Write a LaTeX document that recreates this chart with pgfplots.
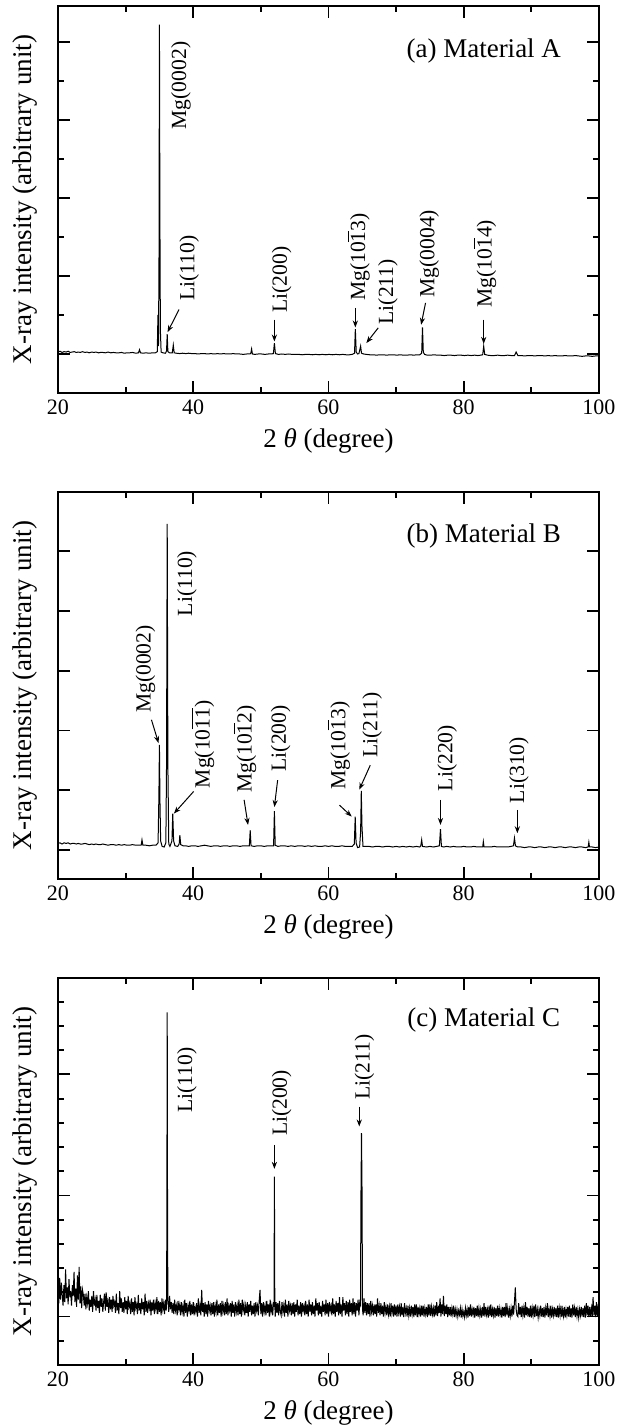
\documentclass[border=0pt]{standalone}
\usepackage{fontspec}
\setmainfont{Liberation Serif}
\usepackage{pgfplots}
\pgfplotsset{compat=1.18}
\usetikzlibrary{arrows.meta}
\newcommand{\ob}[1]{$\overline{\mbox{#1}}$}
\newcommand{\lblf}{\fontsize{10.8}{12}\selectfont}
\pgfplotsset{
  xrd/.style={
    scale only axis, width=270.5pt, height=193.5pt,
    xmin=20, xmax=100,
    xtick={20,40,60,80,100}, minor xtick={30,50,70,90},
    tick align=inside,
    major tick length=6pt, minor tick length=3pt,
    tick style={line width=0.9pt, black},
    axis line style={line width=1.1pt},
    yticklabels={},
    /pgf/number format/assume math mode=true,
    tick label style={font=\fontsize{11}{13}\selectfont},
    label style={font=\fontsize{13.5}{16}\selectfont},
    xlabel={2 \textit{θ} (degree)},
    ylabel={X-ray intensity (arbitrary unit)},
    xlabel style={at={(axis description cs:0.5,-0.124)}, anchor=center},
    ylabel style={at={(axis description cs:-0.061,0.5)}, anchor=center},
    anchor=south west,
  },
}
\tikzset{
  lab/.style={rotate=90, anchor=west, inner sep=0pt, font=\lblf},
  ttl/.style={font=\fontsize{13.5}{16}\selectfont, inner sep=0pt},
  arr/.style={-{Stealth[length=3.5pt,width=2.6pt]}, line width=0.5pt},
}
\begin{document}
\begin{tikzpicture}
% ---------------- (a)
\begin{axis}[xrd, at={(0,0)}, ymin=0, ymax=9.92,
  ytick={1,3,5,7,9}, minor ytick={2,4,6,8}]
\addplot[black, line width=0.5pt, mark=none] coordinates {
(20.0,1.05)(20.3,1.07)(20.6,1.04)(20.9,1.06)(21.2,1.05)(21.5,1.07)(21.8,1.04)(22.1,1.05)
(22.4,1.06)(22.7,1.04)(23.0,1.05)(23.3,1.04)(23.6,1.06)(24.0,1.04)(24.3,1.05)(24.6,1.03)
(25.0,1.05)(25.3,1.04)(25.6,1.05)(26.0,1.03)(26.3,1.04)(26.6,1.04)(27.0,1.03)(27.4,1.05)
(27.8,1.03)(28.2,1.04)(28.6,1.03)(29.0,1.03)(29.4,1.04)(29.8,1.02)(30.2,1.03)(30.6,1.03)
(31.0,1.04)(31.5,1.02)(31.9,1.03)(32.05,1.11)(32.2,1.03)(32.6,1.02)(33.0,1.03)(33.5,1.02)
(34.0,1.03)(34.4,1.03)(34.68,1.06)(34.78,2.0)(34.86,1.2)(34.94,3.6)(35.0,9.44)(35.07,4.5)
(35.14,1.6)(35.25,1.05)(35.5,1.03)(35.9,1.02)(36.05,1.08)(36.15,1.51)(36.25,1.06)(36.5,1.03)
(36.9,1.03)(37.05,1.23)(37.18,1.03)(37.5,1.02)(38.0,1.01)(38.4,1.02)(38.9,1.01)(39.3,1.02)
(39.8,1.01)(40.3,1.01)(40.7,1.00)(41.2,1.01)(41.7,1.01)(42.1,1.00)(42.6,1.01)(43.1,1.00)
(43.6,1.01)(44.0,1.00)(44.5,1.01)(45.0,1.00)(45.4,1.00)(45.9,1.01)(46.4,1.00)(46.9,1.00)
(47.4,0.99)(47.9,1.00)(48.3,1.00)(48.5,1.01)(48.63,1.13)(48.75,1.00)(49.1,0.99)(49.6,1.00)
(50.1,1.00)(50.6,0.99)(51.1,1.00)(51.5,1.00)(51.85,1.01)(52.0,1.28)(52.15,1.01)(52.6,0.99)
(53.1,1.00)(53.6,0.99)(54.1,1.00)(54.6,0.99)(55.1,0.99)(55.6,0.99)(56.1,0.98)(56.6,0.99)
(57.1,0.99)(57.6,0.98)(58.1,0.99)(58.6,0.98)(59.1,0.99)(59.6,0.98)(60.1,0.99)(60.6,0.98)
(61.1,0.99)(61.6,0.98)(62.1,0.99)(62.6,0.98)(63.1,0.98)(63.5,0.99)(63.85,1.02)(63.97,1.64)
(64.1,1.05)(64.3,1.00)(64.5,1.01)(64.75,1.2)(64.88,1.02)(65.2,1.00)(65.6,0.99)(66.1,0.98)
(66.6,0.98)(67.1,0.97)(67.6,0.98)(68.1,0.98)(68.6,0.97)(69.1,0.98)(69.6,0.98)(70.1,0.97)
(70.6,0.98)(71.1,0.97)(71.6,0.97)(72.1,0.98)(72.6,0.97)(73.1,0.98)(73.5,0.98)(73.78,1.02)
(73.9,1.68)(74.02,1.05)(74.2,0.99)(74.6,0.97)(75.1,0.97)(75.6,0.98)(76.1,0.97)(76.6,0.97)
(77.1,0.96)(77.6,0.97)(78.1,0.97)(78.6,0.96)(79.1,0.97)(79.6,0.97)(80.1,0.96)(80.6,0.97)
(81.1,0.96)(81.6,0.97)(82.1,0.96)(82.5,0.97)(82.8,0.98)(82.95,1.2)(83.1,0.99)(83.5,0.97)
(84.0,0.96)(84.5,0.96)(85.0,0.97)(85.5,0.96)(86.0,0.96)(86.5,0.97)(87.0,0.96)(87.5,0.96)
(87.75,1.05)(88.0,0.96)(88.5,0.96)(89.0,0.95)(89.5,0.96)(90.0,0.96)(90.5,0.95)(91.0,0.96)
(91.5,0.96)(92.0,0.95)(92.5,0.96)(93.0,0.95)(93.5,0.96)(94.0,0.95)(94.5,0.95)(95.0,0.96)
(95.5,0.95)(96.0,0.95)(96.5,0.96)(97.0,0.95)(97.5,0.94)(98.0,0.95)(98.5,0.95)(99.0,0.94)
(99.5,0.95)(100.0,0.95)
};
\node[ttl] at (axis cs:82.96,8.76) {(a) Material A};
\node[lab] at (axis cs:38.2,6.75) {Mg(0002)};
\node[lab] at (axis cs:39.4,2.35) {Li(110)};
\node[lab] at (axis cs:53.06,2.05) {Li(200)};
\node[lab] at (axis cs:64.4,2.35) {Mg(10\ob{1}3)};
\node[lab] at (axis cs:68.8,1.75) {Li(211)};
\node[lab] at (axis cs:74.9,2.44) {Mg(0004)};
\node[lab] at (axis cs:83.1,2.18) {Mg(10\ob{1}4)};
\draw[arr] (axis cs:37.9,2.14) -- (axis cs:36.2,1.56);
\draw[arr] (axis cs:52.0,1.88) -- (axis cs:52.0,1.32);
\draw[arr] (axis cs:63.97,2.18) -- (axis cs:63.97,1.68);
\draw[arr] (axis cs:67.35,1.67) -- (axis cs:65.6,1.28);
\draw[arr] (axis cs:74.35,2.31) -- (axis cs:73.7,1.75);
\draw[arr] (axis cs:82.95,1.88) -- (axis cs:82.95,1.26);
\end{axis}
% ---------------- (b)
\begin{axis}[xrd, at={(0,-243pt)}, ymin=-0.486, ymax=5.994,
  ytick={0,1,2,3,4,5}]
\addplot[black, line width=0.5pt, mark=none] coordinates {
(20.0,0.11)(20.3,0.12)(20.6,0.10)(20.9,0.12)(21.2,0.11)(21.5,0.12)(21.8,0.10)(22.1,0.11)
(22.4,0.11)(22.7,0.10)(23.0,0.11)(23.3,0.10)(23.6,0.10)(24.0,0.11)(24.3,0.10)(24.6,0.09)
(25.0,0.10)(25.3,0.09)(25.6,0.10)(26.0,0.09)(26.3,0.09)(26.6,0.10)(27.0,0.09)(27.4,0.08)
(27.8,0.09)(28.2,0.09)(28.6,0.08)(29.0,0.09)(29.4,0.08)(29.8,0.09)(30.2,0.08)(30.6,0.08)
(31.0,0.09)(31.5,0.08)(32.0,0.08)(32.3,0.08)(32.42,0.17)(32.55,0.08)(33.0,0.08)(33.5,0.07)
(34.0,0.08)(34.5,0.08)(34.8,0.12)(34.92,0.9)(35.0,1.76)(35.08,0.8)(35.18,0.15)(35.4,0.06)
(35.7,0.05)(35.95,0.12)(36.05,1.42)(36.15,5.46)(36.25,1.42)(36.38,0.1)(36.55,0.06)(36.85,0.15)
(36.97,0.61)(37.1,0.15)(37.3,0.07)(37.7,0.06)(37.92,0.1)(38.02,0.25)(38.15,0.09)(38.5,0.07)
(38.9,0.07)(39.3,0.06)(39.8,0.07)(40.3,0.07)(40.7,0.06)(41.2,0.07)(41.7,0.08)(42.1,0.07)
(42.6,0.06)(43.1,0.07)(43.6,0.07)(44.0,0.06)(44.5,0.07)(45.0,0.07)(45.4,0.06)(45.9,0.07)
(46.4,0.07)(46.9,0.06)(47.4,0.07)(47.9,0.07)(48.3,0.07)(48.42,0.33)(48.55,0.07)(49.0,0.06)
(49.5,0.07)(50.0,0.07)(50.5,0.06)(51.0,0.07)(51.5,0.07)(51.88,0.07)(52.0,0.65)(52.12,0.08)
(52.5,0.06)(53.0,0.07)(53.5,0.07)(54.0,0.06)(54.5,0.07)(55.0,0.06)(55.5,0.07)(56.0,0.07)
(56.5,0.06)(57.0,0.07)(57.5,0.06)(58.0,0.07)(58.5,0.06)(59.0,0.06)(59.5,0.07)(60.0,0.06)
(60.5,0.07)(61.0,0.06)(61.5,0.06)(62.0,0.07)(62.5,0.06)(63.0,0.06)(63.5,0.06)(63.82,0.1)
(63.95,0.56)(64.08,0.12)(64.3,0.04)(64.6,0.05)(64.75,0.3)(64.85,0.99)(64.95,0.4)(65.1,0.06)
(65.5,0.06)(66.0,0.06)(66.5,0.05)(67.0,0.06)(67.5,0.06)(68.0,0.05)(68.5,0.06)(69.0,0.06)
(69.5,0.05)(70.0,0.06)(70.5,0.05)(71.0,0.06)(71.5,0.05)(72.0,0.06)(72.5,0.05)(73.0,0.06)
(73.5,0.05)(73.65,0.07)(73.78,0.17)(73.9,0.06)(74.5,0.05)(75.0,0.06)(75.5,0.05)(76.0,0.06)
(76.4,0.07)(76.56,0.35)(76.7,0.06)(77.0,0.05)(77.5,0.06)(78.0,0.05)(78.5,0.06)(79.0,0.05)
(79.5,0.05)(80.0,0.06)(80.5,0.05)(81.0,0.05)(81.5,0.06)(82.0,0.05)(82.5,0.05)(82.8,0.05)
(82.9,0.14)(83.0,0.05)(83.5,0.05)(84.0,0.05)(84.5,0.06)(85.0,0.05)(85.5,0.05)(86.0,0.05)
(86.5,0.05)(87.0,0.06)(87.35,0.07)(87.5,0.2)(87.65,0.07)(88.0,0.05)(88.5,0.05)(89.0,0.04)
(89.5,0.05)(90.0,0.05)(90.5,0.04)(91.0,0.05)(91.5,0.05)(92.0,0.04)(92.5,0.05)(93.0,0.05)
(93.5,0.04)(94.0,0.05)(94.5,0.05)(95.0,0.04)(95.5,0.05)(96.0,0.05)(96.5,0.04)(97.0,0.05)
(97.5,0.05)(98.0,0.04)(98.4,0.05)(98.5,0.13)(98.6,0.05)(99.0,0.05)(99.5,0.04)(100.0,0.05)
};
\node[ttl] at (axis cs:82.96,5.25) {(b) Material B};
\node[lab] at (axis cs:32.94,2.29) {Mg(0002)};
\node[lab] at (axis cs:39.07,3.91) {Li(110)};
\node[lab] at (axis cs:41.4,1.03) {Mg(10\ob{1}\ob{1})};
\node[lab] at (axis cs:47.64,0.95) {Mg(10\ob{1}2)};
\node[lab] at (axis cs:52.94,1.31) {Li(200)};
\node[lab] at (axis cs:61.5,1.01) {Mg(10\ob{1}3)};
\node[lab] at (axis cs:66.47,1.54) {Li(211)};
\node[lab] at (axis cs:77.55,0.98) {Li(220)};
\node[lab] at (axis cs:88.16,0.78) {Li(310)};
\draw[arr] (axis cs:33.82,2.18) -- (axis cs:34.87,1.79);
\draw[arr] (axis cs:40.06,0.98) -- (axis cs:37.14,0.61);
\draw[arr] (axis cs:47.52,0.84) -- (axis cs:48.1,0.42);
\draw[arr] (axis cs:52.48,1.17) -- (axis cs:52.0,0.72);
\draw[arr] (axis cs:61.63,0.75) -- (axis cs:63.43,0.56);
\draw[arr] (axis cs:66.18,1.42) -- (axis cs:64.55,1.01);
\draw[arr] (axis cs:76.56,0.84) -- (axis cs:76.56,0.42);
\draw[arr] (axis cs:87.93,0.67) -- (axis cs:87.93,0.28);
\end{axis}
% ---------------- (c)
\begin{axis}[xrd, at={(0,-486pt)}, ymin=0, ymax=15.98,
  ytick={2,7,12}, minor ytick={1,3,4,5,6,8,9,10,11,13,14,15}]
\addplot[black, line width=0.5pt, mark=none] coordinates {
(20,3.10)(20.125,2.55)(20.25,3.60)(20.375,2.70)(20.5,3.40)(20.625,2.90)(20.75,2.45)(20.875,3.30)
(21,2.60)(21.125,3.95)(21.25,2.75)(21.375,3.20)(21.5,2.50)(21.625,3.55)(21.75,2.80)(21.875,3.05)
(22,2.45)(22.125,3.30)(22.25,2.85)(22.375,3.85)(22.5,2.60)(22.625,3.15)(22.75,2.40)(22.875,3.70)
(23,2.70)(23.125,4.05)(23.25,2.55)(23.375,3.25)(23.5,2.35)(23.625,3.10)(23.75,2.90)(23.875,2.45)
(24,2.95)(24.125,2.30)(24.25,2.80)(24.375,2.55)(24.5,3.05)(24.625,2.25)(24.75,2.70)(24.875,2.40)
(25,2.85)(25.125,2.20)(25.25,3.05)(25.375,2.45)(25.5,2.70)(25.625,2.25)(25.75,2.90)(25.875,2.35)
(26,2.65)(26.125,2.15)(26.25,2.90)(26.375,2.40)(26.5,2.75)(26.625,2.20)(26.75,2.60)(26.875,2.95)
(27,2.25)(27.125,3.00)(27.25,2.40)(27.375,2.65)(27.5,2.15)(27.625,2.80)(27.75,2.30)(27.875,2.70)
(28,2.20)(28.125,2.85)(28.25,2.45)(28.375,2.60)(28.5,2.15)(28.625,2.95)(28.75,2.25)(28.875,2.55)
(29,2.10)(29.125,3.05)(29.25,2.35)(29.375,2.75)(29.5,2.20)(29.625,2.60)(29.75,2.15)(29.875,2.80)
(30,2.30)(30.125,2.65)(30.25,2.10)(30.375,2.85)(30.5,2.40)(30.625,2.55)(30.75,2.10)(30.875,2.75)
(31,2.20)(31.125,2.60)(31.25,2.05)(31.375,2.80)(31.5,2.35)(31.625,2.50)(31.75,2.10)(31.875,2.90)
(32,2.25)(32.125,2.55)(32.25,2.10)(32.375,2.75)(32.5,2.30)(32.625,2.60)(32.75,2.05)(32.875,2.95)
(33,2.20)(33.125,2.65)(33.25,2.15)(33.375,2.55)(33.5,2.35)(33.625,2.70)(33.75,2.05)(33.875,2.60)
(34,2.25)(34.125,2.70)(34.25,2.10)(34.375,2.55)(34.5,2.30)(34.625,2.80)(34.75,2.10)(34.875,2.65)
(35,2.20)(35.125,2.60)(35.25,2.05)(35.375,2.75)(35.5,2.30)(35.625,2.55)(35.75,2.10)(35.875,2.70)
(36,2.25)(36.06,2.60)(36.1,6.5)(36.15,14.56)(36.2,6.0)(36.25,2.70)(36.375,2.20)(36.5,2.85)(36.625,2.30)(36.75,2.60)(36.875,2.15)
(37,2.55)(37.125,2.10)(37.25,2.70)(37.375,2.25)(37.5,2.45)(37.625,2.05)(37.75,2.65)(37.875,2.30)
(38,2.50)(38.125,2.05)(38.25,2.60)(38.375,2.20)(38.5,2.45)(38.625,2.00)(38.75,2.70)(38.875,2.15)
(39,2.55)(39.125,2.00)(39.25,2.45)(39.375,2.25)(39.5,2.65)(39.625,2.05)(39.75,2.50)(39.875,2.10)
(40,2.60)(40.125,2.05)(40.25,2.40)(40.375,2.20)(40.5,2.55)(40.625,2.00)(40.75,2.75)(40.875,2.15)
(41,2.45)(41.125,2.05)(41.25,3.10)(41.375,2.20)(41.5,2.55)(41.625,2.00)(41.75,2.60)(41.875,2.10)
(42,2.50)(42.125,2.00)(42.25,2.65)(42.375,2.25)(42.5,2.45)(42.625,2.05)(42.75,2.55)(42.875,2.10)
(43,2.60)(43.125,2.00)(43.25,2.45)(43.375,2.20)(43.5,2.70)(43.625,2.05)(43.75,2.50)(43.875,2.15)
(44,2.55)(44.125,2.00)(44.25,2.65)(44.375,2.20)(44.5,2.45)(44.625,2.05)(44.75,2.60)(44.875,2.10)
(45,2.75)(45.125,2.05)(45.25,2.45)(45.375,2.25)(45.5,2.55)(45.625,2.00)(45.75,2.65)(45.875,2.15)
(46,2.50)(46.125,2.00)(46.25,2.60)(46.375,2.20)(46.5,2.45)(46.625,2.05)(46.75,2.70)(46.875,2.10)
(47,2.55)(47.125,2.00)(47.25,2.70)(47.375,2.25)(47.5,2.50)(47.625,2.05)(47.75,2.45)(47.875,2.15)
(48,2.60)(48.125,2.00)(48.25,2.50)(48.375,2.20)(48.5,2.65)(48.625,2.05)(48.75,2.45)(48.875,2.10)
(49,2.55)(49.125,2.00)(49.25,2.60)(49.375,2.25)(49.5,2.45)(49.625,2.05)(49.75,2.65)(49.875,3.10)
(50,2.10)(50.125,2.55)(50.25,2.00)(50.375,2.60)(50.5,2.20)(50.625,2.45)(50.75,2.05)(50.875,2.65)
(51,2.15)(51.125,2.50)(51.25,2.00)(51.375,2.70)(51.5,2.20)(51.625,2.45)(51.75,2.05)(51.875,2.60)
(51.95,2.40)(52.0,7.78)(52.06,2.50)(52.125,2.00)(52.25,2.60)(52.375,2.15)(52.5,2.55)(52.625,2.05)(52.75,2.65)(52.875,2.20)
(53,2.05)(53.125,2.60)(53.25,2.20)(53.375,2.45)(53.5,2.00)(53.625,2.70)(53.75,2.15)(53.875,2.50)
(54,2.00)(54.125,2.65)(54.25,2.25)(54.375,2.45)(54.5,2.05)(54.625,2.55)(54.75,2.10)(54.875,2.60)
(55,2.00)(55.125,2.50)(55.25,2.20)(55.375,2.70)(55.5,2.05)(55.625,2.45)(55.75,2.10)(55.875,2.60)
(56,2.00)(56.125,2.55)(56.25,2.25)(56.375,2.45)(56.5,2.05)(56.625,2.65)(56.75,2.10)(56.875,2.50)
(57,2.00)(57.125,2.70)(57.25,2.20)(57.375,2.50)(57.5,2.05)(57.625,2.60)(57.75,2.10)(57.875,2.45)
(58,2.00)(58.125,2.75)(58.25,2.25)(58.375,2.55)(58.5,2.05)(58.625,2.60)(58.75,2.10)(58.875,2.45)
(59,2.00)(59.125,2.65)(59.25,2.20)(59.375,2.50)(59.5,2.05)(59.625,2.70)(59.75,2.10)(59.875,2.55)
(60,2.00)(60.125,2.60)(60.25,2.25)(60.375,2.45)(60.5,2.05)(60.625,2.75)(60.75,2.10)(60.875,2.50)
(61,2.00)(61.125,2.65)(61.25,2.20)(61.375,2.55)(61.5,2.05)(61.625,2.80)(61.75,2.10)(61.875,2.50)
(62,2.00)(62.125,2.80)(62.25,2.25)(62.375,2.55)(62.5,2.05)(62.625,2.65)(62.75,2.10)(62.875,2.60)
(63,2.00)(63.125,2.70)(63.25,2.20)(63.375,2.55)(63.5,2.05)(63.625,2.75)(63.75,2.10)(63.875,2.60)
(64,2.00)(64.125,2.55)(64.25,2.25)(64.375,2.70)(64.5,2.05)(64.625,2.60)(64.73,2.50)(64.80,7.0)(64.88,9.57)(64.96,7.2)(65.03,2.30)
(65.125,2.05)(65.25,2.75)(65.375,2.15)(65.5,2.60)(65.625,2.05)(65.75,2.55)(65.875,2.10)
(66,2.55)(66.125,2.00)(66.25,2.65)(66.375,2.20)(66.5,2.45)(66.625,2.05)(66.75,2.50)(66.875,2.10)
(67,2.50)(67.125,2.00)(67.25,2.75)(67.375,2.15)(67.5,2.45)(67.625,2.05)(67.75,2.55)(67.875,2.10)
(68,2.45)(68.125,2.00)(68.25,2.60)(68.375,2.15)(68.5,2.40)(68.625,2.05)(68.75,2.50)(68.875,2.10)
(69,2.40)(69.125,2.00)(69.25,2.55)(69.375,2.15)(69.5,2.45)(69.625,2.00)(69.75,2.50)(69.875,2.05)
(70,2.45)(70.125,2.00)(70.25,2.50)(70.375,2.15)(70.5,2.40)(70.625,2.00)(70.75,2.55)(70.875,2.05)
(71,2.40)(71.125,1.98)(71.25,2.55)(71.375,2.15)(71.5,2.35)(71.625,2.00)(71.75,2.45)(71.875,2.05)
(72,2.35)(72.125,2.00)(72.25,2.45)(72.375,2.10)(72.5,2.40)(72.625,1.98)(72.75,2.50)(72.875,2.05)
(73,2.50)(73.125,1.98)(73.25,2.40)(73.375,2.10)(73.5,2.35)(73.625,2.00)(73.75,2.45)(73.875,2.05)
(74,2.45)(74.125,2.00)(74.25,2.35)(74.375,2.10)(74.5,2.40)(74.625,1.98)(74.75,2.50)(74.875,2.05)
(75,2.50)(75.125,2.02)(75.25,2.40)(75.375,2.10)(75.5,2.35)(75.625,1.98)(75.75,2.45)(75.875,2.05)
(76,2.60)(76.125,2.02)(76.25,2.45)(76.375,2.15)(76.5,2.75)(76.625,2.00)(76.75,2.50)(76.875,2.10)
(77,2.85)(77.125,2.02)(77.25,2.45)(77.375,2.10)(77.5,2.50)(77.625,1.98)(77.75,2.40)(77.875,2.05)
(78,2.40)(78.125,2.00)(78.25,2.35)(78.375,2.10)(78.5,2.45)(78.625,1.98)(78.75,2.30)(78.875,2.05)
(79,2.30)(79.125,2.00)(79.25,2.25)(79.375,2.08)(79.5,2.35)(79.625,1.96)(79.75,2.30)(79.875,2.02)
(80,2.20)(80.125,1.98)(80.25,2.35)(80.375,2.05)(80.5,2.30)(80.625,1.96)(80.75,2.40)(80.875,2.02)
(81,2.50)(81.125,2.00)(81.25,2.30)(81.375,2.08)(81.5,2.40)(81.625,1.96)(81.75,2.35)(81.875,2.02)
(82,2.45)(82.125,1.98)(82.25,2.35)(82.375,2.05)(82.5,2.30)(82.625,1.96)(82.75,2.40)(82.875,2.02)
(83,2.55)(83.125,2.00)(83.25,2.40)(83.375,2.08)(83.5,2.30)(83.625,1.96)(83.75,2.45)(83.875,2.02)
(84,2.50)(84.125,1.98)(84.25,2.30)(84.375,2.05)(84.5,2.40)(84.625,1.96)(84.75,2.35)(84.875,2.02)
(85,2.45)(85.125,2.00)(85.25,2.35)(85.375,2.08)(85.5,2.30)(85.625,1.96)(85.75,2.40)(85.875,2.02)
(86,2.40)(86.125,1.98)(86.25,2.55)(86.375,2.05)(86.5,2.35)(86.625,1.96)(86.75,2.30)(86.875,2.02)
(87,2.35)(87.125,2.00)(87.25,2.45)(87.375,2.08)(87.5,2.60)(87.625,3.20)(87.75,2.30)(87.875,2.05)
(88,2.00)(88.125,2.55)(88.25,2.08)(88.375,2.40)(88.5,1.98)(88.625,2.45)(88.75,2.05)(88.875,2.35)
(89,1.96)(89.125,2.60)(89.25,2.05)(89.375,2.40)(89.5,2.00)(89.625,2.35)(89.75,1.98)(89.875,2.45)
(90,1.96)(90.125,2.35)(90.25,2.05)(90.375,2.45)(90.5,1.98)(90.625,2.50)(90.75,2.02)(90.875,2.30)
(91,1.96)(91.125,2.30)(91.25,2.05)(91.375,2.45)(91.5,2.00)(91.625,2.35)(91.75,1.98)(91.875,2.40)
(92,1.96)(92.125,2.35)(92.25,2.05)(92.375,2.55)(92.5,1.98)(92.625,2.30)(92.75,2.02)(92.875,2.45)
(93,1.96)(93.125,2.30)(93.25,2.05)(93.375,2.40)(93.5,2.00)(93.625,2.35)(93.75,1.98)(93.875,2.45)
(94,1.96)(94.125,2.35)(94.25,2.05)(94.375,2.45)(94.5,1.98)(94.625,2.30)(94.75,2.02)(94.875,2.40)
(95,1.96)(95.125,2.30)(95.25,2.05)(95.375,2.40)(95.5,2.00)(95.625,2.45)(95.75,1.98)(95.875,2.35)
(96,1.96)(96.125,2.50)(96.25,2.05)(96.375,2.35)(96.5,1.98)(96.625,2.40)(96.75,2.02)(96.875,2.30)
(97,1.96)(97.125,2.30)(97.25,2.05)(97.375,2.40)(97.5,2.00)(97.625,2.35)(97.75,1.98)(97.875,2.45)
(98,1.96)(98.125,2.55)(98.25,2.05)(98.375,2.45)(98.5,1.98)(98.625,2.40)(98.75,2.02)(98.875,2.35)
(99,2.00)(99.125,2.80)(99.25,2.05)(99.375,2.45)(99.5,1.98)(99.625,2.60)(99.75,2.02)(99.875,2.50)
(100,2.05)
};
\node[ttl] at (axis cs:82.96,14.26) {(c) Material C};
\node[lab] at (axis cs:39.07,10.4) {Li(110)};
\node[lab] at (axis cs:53.06,9.44) {Li(200)};
\node[lab] at (axis cs:65.3,10.95) {Li(211)};
\draw[arr] (axis cs:52.0,9.09) -- (axis cs:52.0,8.1);
\draw[arr] (axis cs:64.55,10.67) -- (axis cs:64.55,9.85);
\end{axis}
\pgfresetboundingbox
\path[use as bounding box] (-29pt,-516.5pt) rectangle (280.5pt,196.5pt);
\end{tikzpicture}
\end{document}
